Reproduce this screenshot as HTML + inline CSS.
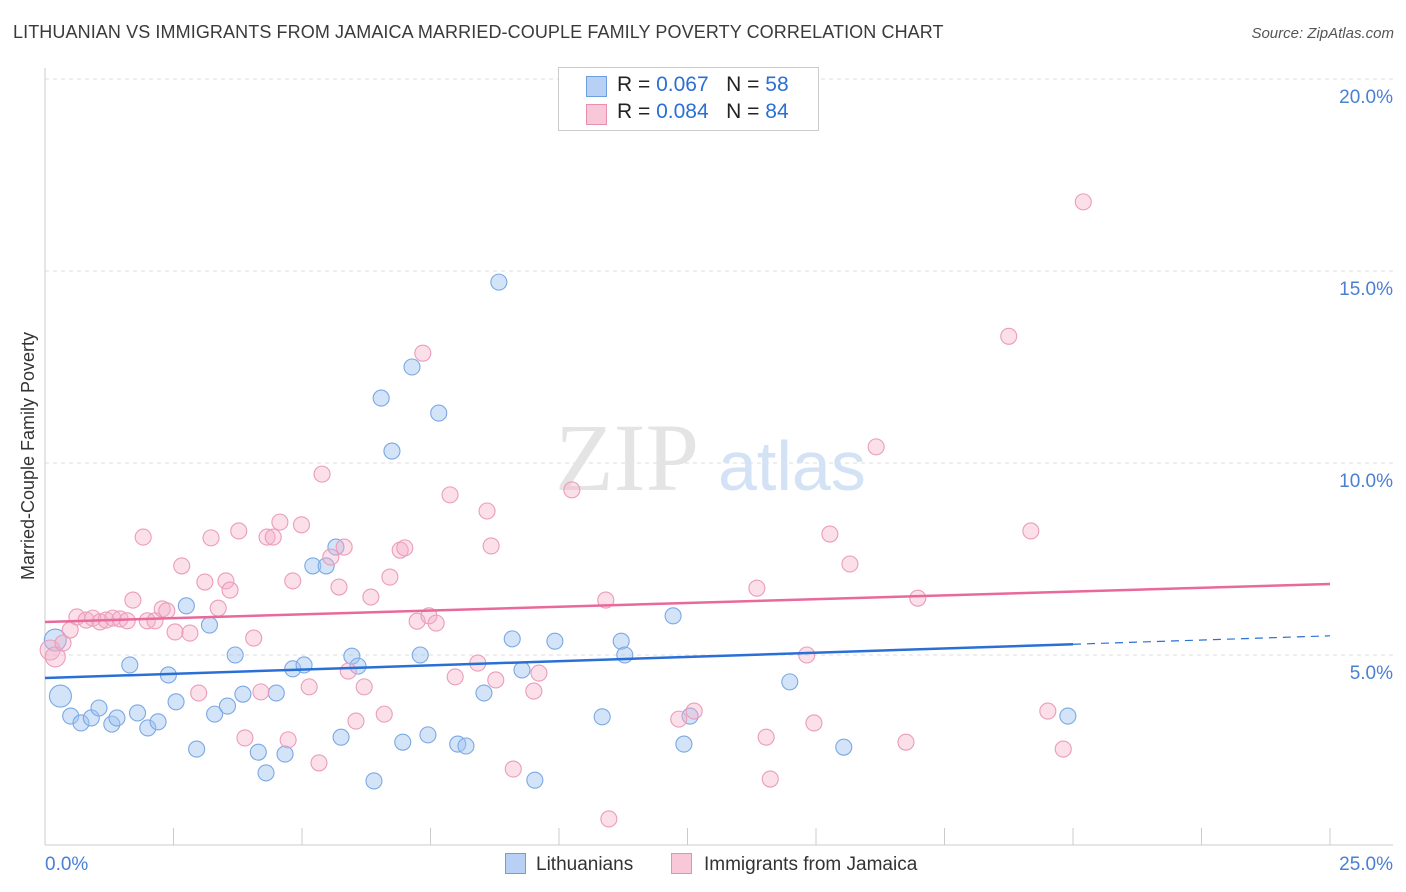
<!DOCTYPE html>
<html><head><meta charset="utf-8">
<style>
body{margin:0;background:#fff;font-family:"Liberation Sans",sans-serif;}
#c{position:relative;width:1406px;height:892px;overflow:hidden;}
.t{position:absolute;white-space:nowrap;}
</style></head><body>
<div id="c">
<div class="t" style="left:13px;top:22px;font-size:18px;color:#3a3a3a;letter-spacing:0.1px">LITHUANIAN VS IMMIGRANTS FROM JAMAICA MARRIED-COUPLE FAMILY POVERTY CORRELATION CHART</div>
<div class="t" style="right:12px;top:25px;font-size:15px;color:#555;font-style:italic">Source: ZipAtlas.com</div>
<svg id="s" width="1406" height="892" style="position:absolute;left:0;top:0"></svg>
</div>
<script>
const blueX=[0.3,0.2,0.5,0.7,0.9,1.05,1.3,1.4,1.65,1.8,2.0,2.2,2.4,2.55,2.75,2.95,3.2,3.3,3.55,3.7,3.85,4.15,4.3,4.5,4.67,4.82,5.04,5.21,5.47,5.66,5.76,5.97,6.09,6.4,6.54,6.75,6.96,7.14,7.3,7.45,7.66,8.03,8.19,8.54,8.83,9.09,9.28,9.53,9.92,10.84,11.21,11.28,12.22,12.43,12.55,14.49,15.54,19.9];
const blueY=[3.93,5.39,3.41,3.23,3.36,3.62,3.2,3.36,4.74,3.49,3.1,3.26,4.48,3.78,6.28,2.55,5.78,3.46,3.67,5.0,3.98,2.47,1.93,4.01,2.42,4.64,4.74,7.32,7.32,7.81,2.86,4.97,4.71,1.72,11.69,10.31,2.73,12.5,5.0,2.92,11.3,2.68,2.63,4.01,14.71,5.42,4.61,1.74,5.36,3.39,5.36,5.0,6.02,2.68,3.41,4.3,2.6,3.41];
const pinkX=[0.1,0.2,0.35,0.49,0.62,0.8,0.93,1.07,1.19,1.32,1.46,1.6,1.71,1.91,1.99,2.14,2.28,2.37,2.53,2.66,2.82,2.99,3.11,3.23,3.37,3.52,3.6,3.77,3.89,4.06,4.2,4.32,4.44,4.57,4.73,4.82,4.99,5.14,5.33,5.39,5.56,5.72,5.82,5.9,6.05,6.21,6.34,6.6,6.71,6.91,7.0,7.24,7.35,7.47,7.61,7.88,7.98,8.42,8.6,8.68,8.77,9.11,9.51,9.61,10.25,10.91,10.97,12.33,12.63,13.85,14.03,14.11,14.82,14.96,15.27,15.66,16.17,16.75,16.98,18.75,19.18,19.51,19.81,20.2];
const pinkY=[5.13,4.95,5.31,5.65,5.99,5.91,5.96,5.86,5.91,5.96,5.94,5.89,6.43,8.07,5.89,5.89,6.2,6.15,5.6,7.32,5.57,4.01,6.9,8.05,6.22,6.93,6.69,8.23,2.84,5.44,4.04,8.07,8.07,8.46,2.79,6.93,8.39,4.17,2.19,9.71,7.55,6.77,7.81,4.58,3.28,4.17,6.51,3.46,7.03,7.73,7.79,5.88,12.86,6.02,5.83,9.17,4.43,4.79,8.75,7.84,4.35,2.03,4.06,4.53,9.3,6.43,0.73,3.33,3.54,6.74,2.86,1.77,5.0,3.23,8.15,7.37,10.42,2.73,6.48,13.3,8.23,3.54,2.55,16.8];
const tickX=["0.0%","25.0%"];
const tickY=[5,10,15,20];
const X=v=>45+v*51.4, Y=v=>847-v*38.4;
const s=document.getElementById('s'),NS='http://www.w3.org/2000/svg';
function mk(tag,a,name){const e=document.createElementNS(NS,tag);for(const k in a)e.setAttribute(k,a[k]);


s.appendChild(e);return e;}
tickY.forEach(v=>{mk('line',{x1:45,x2:1393,y1:Y(v),y2:Y(v),stroke:'#ddd','stroke-dasharray':'4,4'},'gridline');
const t=mk('text',{x:1393,y:Y(v)+24,'text-anchor':'end','font-size':19,fill:'#4a7fd4'},'y-tick-label');t.textContent=v.toFixed(1)+'%';});
mk('line',{x1:45,x2:45,y1:68,y2:845,stroke:'#ccc'},'y-axis');
mk('line',{x1:45,x2:1393,y1:845,y2:845,stroke:'#ccc'},'x-axis');
for(let i=1;i<=10;i++)mk('line',{x1:X(i*2.5),x2:X(i*2.5),y1:828,y2:845,stroke:'#ccc'},'x-tick');
let t=mk('text',{x:45,y:870,'font-size':19,fill:'#4a7fd4'},'x-tick-label');t.textContent=tickX[0];
t=mk('text',{x:1393,y:870,'text-anchor':'end','font-size':19,fill:'#4a7fd4'},'x-tick-label');t.textContent=tickX[1];
t=mk('text',{x:0,y:0,transform:'translate(34,456) rotate(-90)','text-anchor':'middle','font-size':18,fill:'#333'},'y-axis-title');t.textContent='Married-Couple Family Poverty';
t=mk('text',{x:555,y:490,'font-size':96,fill:'#e4e4e4','font-family':'Liberation Serif'},'watermark-zip');t.textContent='ZIP';
t=mk('text',{x:718,y:490,'font-size':70,fill:'#d4e2f5'},'watermark-atlas');t.textContent='atlas';
blueX.forEach((v,i)=>mk('circle',{cx:X(v),cy:Y(blueY[i]),r:i<2?11:8,fill:'rgba(160,195,240,0.45)',stroke:'#7aa8e4','stroke-width':1.1},'lithuanian-point'));
pinkX.forEach((v,i)=>mk('circle',{cx:X(v),cy:Y(pinkY[i]),r:i<2?10:8,fill:'rgba(245,175,200,0.4)',stroke:'#eb9cba','stroke-width':1.1},'jamaica-point'));
mk('line',{x1:X(0),y1:Y(4.4),x2:X(20),y2:Y(5.28),stroke:'#2a6fd6','stroke-width':2.5},'lithuanian-trendline');
mk('line',{x1:X(20),y1:Y(5.28),x2:X(25),y2:Y(5.5),stroke:'#2a6fd6','stroke-width':1.2,'stroke-dasharray':'8,6'},'lithuanian-trend-extension');
mk('line',{x1:X(0),y1:Y(5.86),x2:X(25),y2:Y(6.85),stroke:'#e8699a','stroke-width':2.5},'jamaica-trendline');
</script>
<div class="t" style="left:558px;top:67px;width:259px;height:62px;border:1px solid #ccc;background:#fff;font-size:21px;color:#222">
<div style="position:absolute;left:27px;top:8px;width:19px;height:19px;background:#b8d0f4;border:1px solid #6d9fe0"></div>
<div style="position:absolute;left:58px;top:5px">R = <span style="color:#2a6fd6">0.067</span> &nbsp;&nbsp;N = <span style="color:#2a6fd6">58</span></div>
<div style="position:absolute;left:27px;top:36px;width:19px;height:19px;background:#f8c8d8;border:1px solid #e890b0"></div>
<div style="position:absolute;left:58px;top:32px">R = <span style="color:#2a6fd6">0.084</span> &nbsp;&nbsp;N = <span style="color:#2a6fd6">84</span></div>
</div>
<div class="t" style="left:505px;top:853px;font-size:19px;color:#333"><span style="display:inline-block;width:19px;height:19px;background:#b8d0f4;border:1px solid #6d9fe0;vertical-align:-4px;margin-right:10px"></span>Lithuanians</div>
<div class="t" style="left:671px;top:853px;font-size:19px;color:#333"><span style="display:inline-block;width:19px;height:19px;background:#f8c8d8;border:1px solid #e890b0;vertical-align:-4px;margin-right:12px"></span>Immigrants from Jamaica</div>
</body></html>
